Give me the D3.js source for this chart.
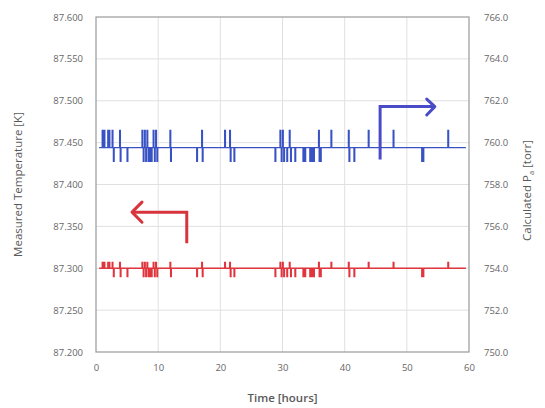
<!DOCTYPE html>
<html><head><meta charset="utf-8">
<script src="https://cdn.jsdelivr.net/npm/d3@7"></script>
<style>
html,body{margin:0;padding:0;background:#fff;}
text{font-family:"Open Sans",sans-serif;}
</style></head>
<body><svg id="chart" width="545" height="408"></svg>
<script>
// ---- data ----
const xTicks = [0, 10, 20, 30, 40, 50, 60];
const tempTicks = [87.2, 87.25, 87.3, 87.35, 87.4, 87.45, 87.5, 87.55, 87.6];
const pressTicks = [750, 752, 754, 756, 758, 760, 762, 764, 766];
const timeStart = 0.5, timeEnd = 59.5;
const tempBase = 87.300, pressBase = 759.76;
// spike events: time [h] and reading values (temperature K / pressure torr)
const spikeTimes = [1.0,1.3,1.9,2.1,2.6,2.8,3.8,3.9,5.0,
  7.4,7.6,7.8,8.0,8.2,8.4,8.6,8.9,9.2,9.4,9.6,9.8,
  11.9,12.0,16.2,17.0,17.1,20.7,21.5,21.6,22.2,
  28.8,29.6,29.8,30.0,30.2,30.7,31.1,31.3,32.0,33.3,33.6,34.4,34.7,35.0,35.8,35.9,36.1,
  37.8,40.6,40.7,41.5,43.8,47.8,52.4,52.6,56.6];
const spikeTemp = [87.307,87.307,87.307,87.307,87.307,87.290,87.307,87.290,87.290,
  87.307,87.290,87.307,87.290,87.307,87.290,87.290,87.290,87.307,87.290,87.307,87.290,
  87.307,87.290,87.290,87.307,87.290,87.307,87.307,87.290,87.290,
  87.290,87.307,87.290,87.307,87.290,87.290,87.307,87.290,87.290,87.290,87.290,87.290,87.290,87.290,87.307,87.290,87.290,
  87.307,87.307,87.290,87.290,87.307,87.307,87.290,87.290,87.307];
const spikePress = [760.58,760.58,760.58,760.58,760.58,759.10,760.58,759.10,759.10,
  760.58,759.10,760.58,759.10,760.58,759.10,759.10,759.10,760.58,759.10,760.58,759.10,
  760.58,759.10,759.10,760.58,759.10,760.58,760.58,759.10,759.10,
  759.10,760.58,759.10,760.58,759.10,759.10,760.58,759.10,759.10,759.10,759.10,759.10,759.10,759.10,760.58,759.10,759.10,
  760.58,760.58,759.10,759.10,760.58,760.58,759.10,759.10,760.58];
const spikeDur = 0.12;

// ---- layout ----
const L = 96, R = 469, T = 17, B = 352;
const svg = d3.select("#chart");
const x = d3.scaleLinear().domain([0, 60]).range([L, R]);
const yT = d3.scaleLinear().domain([87.2, 87.6]).range([B, T]);
const yP = d3.scaleLinear().domain([750, 766]).range([B, T]);

// grid
const g = svg.append("g");
g.selectAll(".vg").data(xTicks.slice(1, -1)).enter().append("line")
  .attr("x1", d => x(d)).attr("x2", d => x(d)).attr("y1", T).attr("y2", B)
  .attr("stroke", "#e0e0e0").attr("stroke-width", 1);
g.selectAll(".hg").data(tempTicks.slice(1, -1)).enter().append("line")
  .attr("x1", L).attr("x2", R).attr("y1", d => yT(d)).attr("y2", d => yT(d))
  .attr("stroke", "#e0e0e0").attr("stroke-width", 1);

// build series
function series(base, vals) {
  const pts = [[timeStart, base]];
  spikeTimes.forEach((t, i) => { pts.push([t, vals[i]]); pts.push([t + spikeDur, base]); });
  pts.push([timeEnd, base]);
  return pts;
}
const lineT = d3.line().x(d => x(d[0])).y(d => yT(d[1])).curve(d3.curveStepAfter);
const lineP = d3.line().x(d => x(d[0])).y(d => yP(d[1])).curve(d3.curveStepAfter);
svg.append("path").attr("d", lineT(series(tempBase, spikeTemp)))
  .attr("fill", "none").attr("stroke", "#e0353d").attr("stroke-width", 1.3);
svg.append("path").attr("d", lineP(series(pressBase, spikePress)))
  .attr("fill", "none").attr("stroke", "#3852c4").attr("stroke-width", 1.3);

// frame
svg.append("rect").attr("x", L).attr("y", T).attr("width", R - L).attr("height", B - T)
  .attr("fill", "none").attr("stroke", "#9a9a9a").attr("stroke-width", 1.2);

// axes
const axB = d3.axisBottom(x).tickValues(xTicks).tickSize(0).tickPadding(12);
const axL = d3.axisLeft(yT).tickValues(tempTicks).tickFormat(d3.format(".3f")).tickSize(0).tickPadding(13);
const axR = d3.axisRight(yP).tickValues(pressTicks).tickFormat(d3.format(".1f")).tickSize(0).tickPadding(15);
function style(sel) {
  sel.select(".domain").remove();
  sel.selectAll("text").attr("fill", "#666").style("font-size", "9.5px").style("font-family", "Open Sans, sans-serif");
}
svg.append("g").attr("transform", `translate(0,${B})`).call(axB).call(style);
svg.append("g").attr("transform", `translate(${L},0)`).call(axL).call(style);
svg.append("g").attr("transform", `translate(${R},0)`).call(axR).call(style);

// titles
svg.append("text").attr("x", (L + R) / 2).attr("y", 402).attr("text-anchor", "middle")
  .attr("fill", "#595959").style("font-size", "11.5px").style("font-weight", "600").text("Time [hours]");
svg.append("text").attr("transform", `translate(22,${(T + B) / 2}) rotate(-90)`).attr("text-anchor", "middle")
  .attr("fill", "#595959").style("font-size", "11.5px").text("Measured Temperature [K]");
const rt = svg.append("text").attr("transform", `translate(531,${(T + B) / 2 + 6}) rotate(-90)`).attr("text-anchor", "middle")
  .attr("fill", "#595959").style("font-size", "11.5px");
rt.append("tspan").text("Calculated P");
rt.append("tspan").attr("dy", 3).style("font-size", "7.5px").text("a");
rt.append("tspan").attr("dy", -3).text(" [torr]");

// arrows (annotation, positioned in data coords)
const red = "#d8343c", blue = "#4a4bc6";
const redPath = [[14.6, 87.33], [14.6, 87.367], [5.8, 87.367]];
const bluePath = [[45.7, 87.43], [45.7, 87.493], [54.5, 87.493]];
const al = d3.line().x(d => x(d[0])).y(d => yT(d[1]));
svg.append("path").attr("d", al(redPath)).attr("fill", "none").attr("stroke", red).attr("stroke-width", 3);
svg.append("path").attr("d", al([[7.4, 87.379], [5.8, 87.367], [7.4, 87.355]])).attr("fill", "none")
  .attr("stroke", red).attr("stroke-width", 3).attr("stroke-linecap", "round").attr("stroke-linejoin", "round");
svg.append("path").attr("d", al(bluePath)).attr("fill", "none").attr("stroke", blue).attr("stroke-width", 3);
svg.append("path").attr("d", al([[53.2, 87.502], [54.5, 87.493], [53.2, 87.483]])).attr("fill", "none")
  .attr("stroke", blue).attr("stroke-width", 3).attr("stroke-linecap", "round").attr("stroke-linejoin", "round");
</script></body></html>
